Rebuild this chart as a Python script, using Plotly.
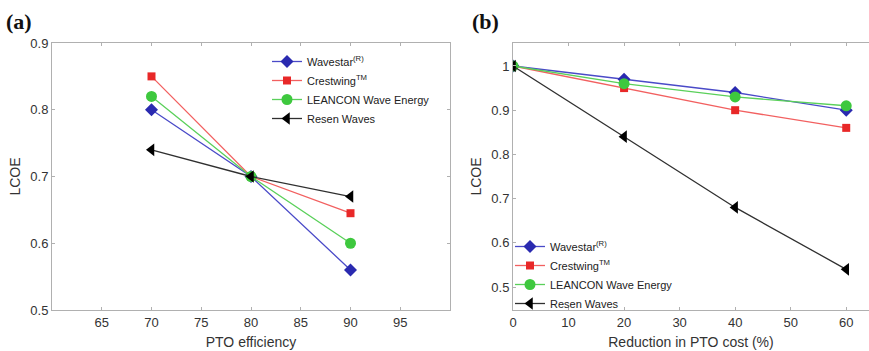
import plotly.graph_objects as go

# Panel (a): PTO efficiency
eff_x = [70, 80, 90]
eff_wavestar = [0.80, 0.70, 0.56]
eff_crestwing = [0.85, 0.70, 0.645]
eff_leancon = [0.82, 0.70, 0.60]
eff_resen = [0.74, 0.70, 0.67]

# Panel (b): Reduction in PTO cost
cost_x = [0, 20, 40, 60]
cost_wavestar = [1.0, 0.97, 0.94, 0.90]
cost_crestwing = [1.0, 0.95, 0.90, 0.86]
cost_leancon = [1.0, 0.96, 0.93, 0.91]
cost_resen = [1.0, 0.84, 0.68, 0.54]

names = ["Wavestar<sup>(R)</sup>", "Crestwing<sup>TM</sup>", "LEANCON Wave Energy", "Resen Waves"]
line_colors = ["#4a4ac8", "#f26060", "#5ad05a", "#303030"]
marker_colors = ["#2a2ab0", "#e82828", "#3ec83e", "#000000"]
symbols = ["diamond", "square", "circle", "triangle-left"]
sizes = [10, 8, 11, 11]

fig = go.Figure()

series_a = [eff_wavestar, eff_crestwing, eff_leancon, eff_resen]
series_b = [cost_wavestar, cost_crestwing, cost_leancon, cost_resen]

for i in range(4):
    fig.add_trace(go.Scatter(
        x=eff_x, y=series_a[i], name=names[i], mode="lines+markers",
        line=dict(color=line_colors[i], width=1.3),
        marker=dict(symbol=symbols[i], size=sizes[i], color=marker_colors[i]),
        xaxis="x", yaxis="y", legend="legend"))
for i in range(4):
    fig.add_trace(go.Scatter(
        x=cost_x, y=series_b[i], name=names[i], mode="lines+markers",
        line=dict(color=line_colors[i], width=1.3),
        marker=dict(symbol=symbols[i], size=sizes[i], color=marker_colors[i]),
        xaxis="x2", yaxis="y2", legend="legend2"))

W, H = 869, 351
ytop = 1 - 43 / H
ybot = 1 - 310 / H
axis_common = dict(showgrid=False, zeroline=False, showline=True, linecolor="#b0b0b0",
                   linewidth=1, ticks="inside", ticklen=3, tickcolor="#b0b0b0", automargin=False,
                   tickfont=dict(family="Liberation Sans, Arial", size=13, color="#333333"))

fig.update_layout(
    width=W, height=H,
    margin=dict(l=0, r=0, t=0, b=0),
    paper_bgcolor="white", plot_bgcolor="white",
    font=dict(family="Liberation Sans, Arial", color="#333333"),
    xaxis=dict(domain=[52 / W, 450 / W], range=[60, 100], tickvals=[65, 70, 75, 80, 85, 90, 95],
               mirror="ticks", anchor="y",
               title=dict(text="PTO efficiency", font=dict(size=14, color="#333333"), standoff=8),
               **axis_common),
    yaxis=dict(domain=[ybot, ytop], range=[0.5, 0.9], tickvals=[0.5, 0.6, 0.7, 0.8, 0.9],
               tickformat=".1f", mirror="ticks", anchor="x",
               title=dict(text="LCOE", font=dict(size=14, color="#333333"), standoff=6),
               **axis_common),
    xaxis2=dict(domain=[513 / W, 1.0], range=[0, 64.1], tickvals=[0, 10, 20, 30, 40, 50, 60],
                mirror="ticks", anchor="y2",
                title=dict(text="Reduction in PTO cost (%)", font=dict(size=14, color="#333333"), standoff=8),
                **axis_common),
    yaxis2=dict(domain=[ybot, ytop], range=[0.448, 1.052], tickvals=[0.5, 0.6, 0.7, 0.8, 0.9, 1.0],
                ticktext=["0.5", "0.6", "0.7", "0.8", "0.9", "1"], anchor="x2",
                title=dict(text="LCOE", font=dict(size=14, color="#333333"), standoff=6),
                **axis_common),
    legend=dict(x=267 / W, y=1 - 47 / H, xanchor="left", yanchor="top",
                bgcolor="rgba(255,255,255,0)", font=dict(size=11, color="#222222"),
                tracegroupgap=0, itemwidth=30),
    legend2=dict(x=510 / W, y=1 - 232 / H, xanchor="left", yanchor="top",
                 bgcolor="rgba(255,255,255,0)", font=dict(size=11, color="#222222"),
                 tracegroupgap=0, itemwidth=30),
    showlegend=True,
    annotations=[
        dict(text="<b>(a)</b>", x=4 / W, y=1 - 21 / H, xref="paper", yref="paper",
             xanchor="left", yanchor="middle", showarrow=False,
             font=dict(family="Liberation Serif, Times New Roman", size=22, color="#111111")),
        dict(text="<b>(b)</b>", x=470 / W, y=1 - 21 / H, xref="paper", yref="paper",
             xanchor="left", yanchor="middle", showarrow=False,
             font=dict(family="Liberation Serif, Times New Roman", size=22, color="#111111")),
    ],
)

fig.write_html("out.html", config={"displayModeBar": False},
               post_script="document.body.style.margin='0px';document.body.style.overflow='hidden';")
